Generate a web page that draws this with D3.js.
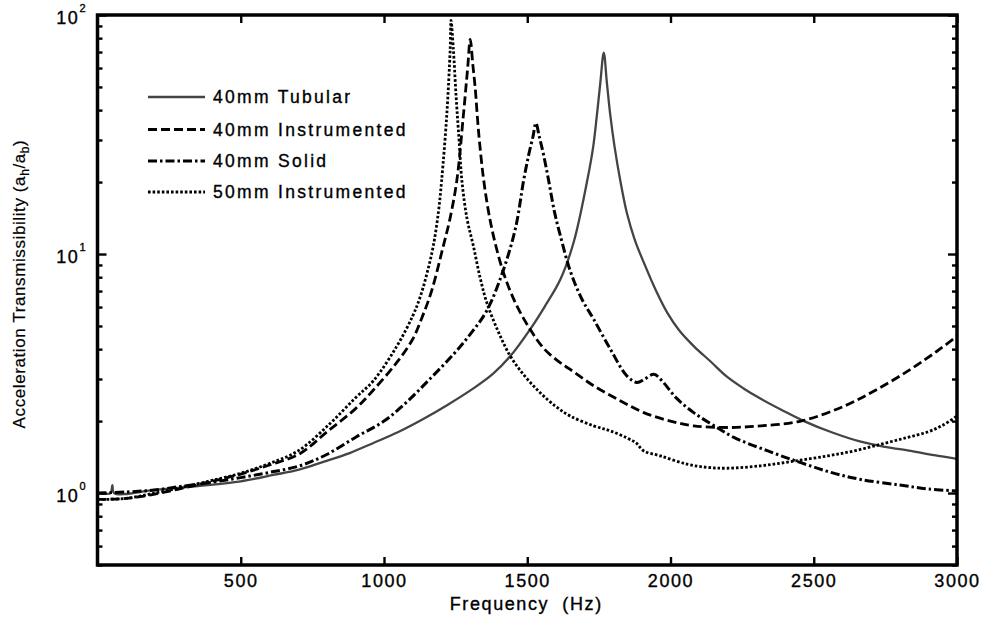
<!DOCTYPE html>
<html>
<head>
<meta charset="utf-8">
<script src="https://cdn.jsdelivr.net/npm/d3@7"></script>
<style>
  html, body { margin: 0; padding: 0; background: #fff; }
  svg { display: block; font-family: "Liberation Sans", Arial, Helvetica, sans-serif; }
  .lbl { fill: #000; stroke: #000; stroke-width: 0.35px; }
</style>
</head>
<body>
<svg id="chart" width="987" height="622"></svg>
<script>
// Frequency axis ticks and transmissibility decades
const xTicks = [500, 1000, 1500, 2000, 2500, 3000];
const yMajor = [1, 10, 100];
const yMinor = [0.5, 0.6, 0.7, 0.8, 0.9, 2, 3, 4, 5, 6, 7, 8, 9, 20, 30, 40, 50, 60, 70, 80, 90];
const yTickExp = ["0", "1", "2"];

// 40mm Tubular
const tubularHz = [0,45,52,58,200,350,500,613,700,788,880,963,1050,1137,1220,1312,1380,1441,1510,1560,1615,1662,1709,1730,1743,1755,1767,1778,1790,1805,1825,1848,1875,1907,1950,1988,2030,2081,2140,2198,2255,2315,2390,2466,2560,2664,2750,2839,2920,3000];
const tubularVal = [1.00,1.00,1.08,1.00,1.03,1.07,1.12,1.19,1.25,1.35,1.47,1.62,1.80,2.04,2.33,2.74,3.15,3.74,4.84,6.0,7.8,11.2,20.2,28,38,52,69.5,52,38,28,20.2,14.8,11.5,9.2,7.0,5.7,4.8,4.12,3.55,3.06,2.74,2.48,2.22,2.0,1.80,1.64,1.56,1.50,1.44,1.39];

// 40mm Instrumented
const instr40Hz = [0,100,200,300,400,500,600,706,800,900,963,1044,1100,1132,1166,1207,1230,1254,1277,1292,1301,1310,1318,1330,1347,1365,1385,1417,1460,1510,1560,1615,1650,1732,1820,1907,2000,2081,2198,2315,2455,2606,2722,2839,2930,3000];
const instr40Val = [0.94,0.95,0.99,1.05,1.12,1.20,1.31,1.46,1.80,2.25,2.7,3.51,4.4,5.4,7.0,10.8,14,20.2,38,60,79,62,50,32.6,20.8,15,11.5,8.35,6.2,4.84,4.0,3.51,3.29,2.81,2.45,2.17,2.0,1.91,1.88,1.91,2.0,2.31,2.72,3.3,3.92,4.53];

// 40mm Solid
const solid40Hz = [0,100,200,300,400,500,600,706,800,904,1000,1079,1160,1242,1300,1359,1417,1460,1487,1505,1520,1530,1542,1557,1575,1595,1615,1650,1690,1732,1790,1848,1883,1910,1942,1970,2020,2081,2150,2221,2340,2455,2560,2664,2800,2900,3000];
const solid40Val = [1.0,1.01,1.03,1.07,1.11,1.16,1.22,1.30,1.45,1.72,2.0,2.4,3.0,3.8,4.6,5.8,8.6,13,20.2,26,31,35.3,31,26,20.2,15,12,8.5,6.5,5.33,4.0,3.09,2.9,3.0,3.14,2.95,2.5,2.17,1.92,1.71,1.5,1.34,1.22,1.14,1.08,1.04,1.02];

// 50mm Instrumented
const instr50Hz = [0,100,200,300,400,500,600,700,811,900,963,1044,1100,1126,1150,1172,1190,1201,1219,1231,1234,1242,1252,1262,1272,1290,1312,1335,1359,1400,1441,1490,1545,1600,1650,1732,1790,1848,1880,1907,1965,2058,2130,2198,2315,2431,2548,2640,2734,2820,2897,2950,3000];
const instr50Val = [0.94,0.95,1.0,1.06,1.13,1.21,1.33,1.50,1.95,2.5,2.95,4.1,5.5,6.6,8.3,10.8,15,20.2,38,72,95,72,45,30,20.2,14,10.8,8,6.25,4.7,3.74,3.1,2.63,2.3,2.1,1.91,1.82,1.70,1.62,1.50,1.43,1.32,1.28,1.27,1.30,1.36,1.43,1.50,1.60,1.70,1.80,1.92,2.10];

const seriesNames = ["40mm Tubular", "40mm Instrumented", "40mm Solid", "50mm Instrumented"];

const series = [
  { name: seriesNames[0], hz: tubularHz, val: tubularVal, stroke: "#444", width: 2.3, dash: null },
  { name: seriesNames[1], hz: instr40Hz, val: instr40Val, stroke: "#000", width: 2.8, dash: "9,4" },
  { name: seriesNames[2], hz: solid40Hz, val: solid40Val, stroke: "#000", width: 3, dash: "9,3,2.5,3" },
  { name: seriesNames[3], hz: instr50Hz, val: instr50Val, stroke: "#000", width: 2.8, dash: "2.6,2" }
];

const svg = d3.select("#chart");
const plotL = 97.5, plotR = 957, plotT = 15, plotB = 565;

const x = d3.scaleLinear().domain([0, 3000]).range([plotL, plotR]);
const y = d3.scaleLog().domain([0.5, 100]).range([plotB, plotT]);

svg.append("defs").append("clipPath").attr("id", "plotClip")
  .append("rect").attr("x", plotL).attr("y", plotT).attr("width", plotR - plotL).attr("height", plotB - plotT);

// Curves
const line = d3.line()
  .x(d => x(d[0]))
  .y(d => y(d[1]))
  .curve(d3.curveCatmullRom.alpha(0.5));

const curves = svg.append("g").attr("clip-path", "url(#plotClip)");
series.forEach(s => {
  const pts = s.hz.map((f, i) => [f, s.val[i]]);
  curves.append("path")
    .datum(pts)
    .attr("d", line)
    .attr("fill", "none")
    .attr("stroke", s.stroke)
    .attr("stroke-width", s.width)
    .attr("stroke-dasharray", s.dash)
    .attr("stroke-linejoin", "round");
});

// Axes (ticks point inward)
function styleAxis(g) {
  g.select(".domain").remove();
  g.selectAll(".tick line").attr("stroke", "#000").attr("stroke-width", 2.4);
}

svg.append("g")
  .attr("transform", `translate(0,${plotB})`)
  .call(d3.axisBottom(x).tickValues(xTicks).tickSizeInner(-8).tickSizeOuter(0)
    .tickPadding(9).tickFormat(d3.format("d")))
  .call(styleAxis)
  .call(g => g.selectAll(".tick text")
    .attr("class", "lbl")
    .attr("font-size", 18)
    .attr("font-family", "Liberation Sans, Arial, sans-serif")
    .attr("letter-spacing", "1.6px"));

svg.append("g")
  .attr("transform", `translate(0,${plotT})`)
  .call(d3.axisTop(x).tickValues(xTicks).tickSizeInner(-8).tickSizeOuter(0).tickFormat(""))
  .call(styleAxis);

[[d3.axisLeft, plotL], [d3.axisRight, plotR]].forEach(([ax, xpos]) => {
  svg.append("g").attr("transform", `translate(${xpos},0)`)
    .call(ax(y).tickValues(yMajor).tickSizeInner(-9).tickSizeOuter(0).tickFormat(""))
    .call(styleAxis);
  svg.append("g").attr("transform", `translate(${xpos},0)`)
    .call(ax(y).tickValues(yMinor).tickSizeInner(-5).tickSizeOuter(0).tickFormat(""))
    .call(styleAxis);
});

// Decade labels 10^n
yMajor.forEach((v, i) => {
  const t = svg.append("text")
    .attr("class", "lbl")
    .attr("x", 87)
    .attr("y", y(v) + 9)
    .attr("text-anchor", "end")
    .attr("font-size", 18)
    .attr("letter-spacing", "1.5px");
  t.append("tspan").text("10");
  t.append("tspan").attr("font-size", 11).attr("dy", -12).text(yTickExp[i]);
});

// Frame
svg.append("rect")
  .attr("x", plotL).attr("y", plotT)
  .attr("width", plotR - plotL).attr("height", plotB - plotT)
  .attr("fill", "none").attr("stroke", "#000").attr("stroke-width", 3.5);

// Axis titles
svg.append("text")
  .attr("class", "lbl")
  .attr("x", (plotL + plotR) / 2 - 1)
  .attr("y", 610)
  .attr("text-anchor", "middle")
  .attr("font-size", 18)
  .attr("letter-spacing", "1.6px")
  .attr("xml:space", "preserve")
  .text("Frequency  (Hz)");

const yt = svg.append("text")
  .attr("class", "lbl")
  .attr("transform", "translate(25,284) rotate(-90)")
  .attr("text-anchor", "middle")
  .attr("font-size", 17)
  .attr("letter-spacing", "0.6px")
  .style("stroke-width", "0.2px");
yt.append("tspan").text("Acceleration Transmissibility (a");
yt.append("tspan").attr("font-size", 12).attr("dy", 4).text("h");
yt.append("tspan").attr("dy", -4).text("/a");
yt.append("tspan").attr("font-size", 12).attr("dy", 4).text("b");
yt.append("tspan").attr("dy", -4).text(")");

// Legend
const legendY = [97, 129.5, 161, 192];
const legend = svg.append("g");
series.forEach((s, i) => {
  legend.append("line")
    .attr("x1", 148).attr("x2", 205)
    .attr("y1", legendY[i]).attr("y2", legendY[i])
    .attr("stroke", s.stroke)
    .attr("stroke-width", s.width)
    .attr("stroke-dasharray", s.dash);
  legend.append("text")
    .attr("class", "lbl")
    .attr("x", 213).attr("y", legendY[i] + 6)
    .attr("font-size", 17.5)
    .attr("letter-spacing", "2.3px")
    .text(s.name);
});
</script>
</body>
</html>
